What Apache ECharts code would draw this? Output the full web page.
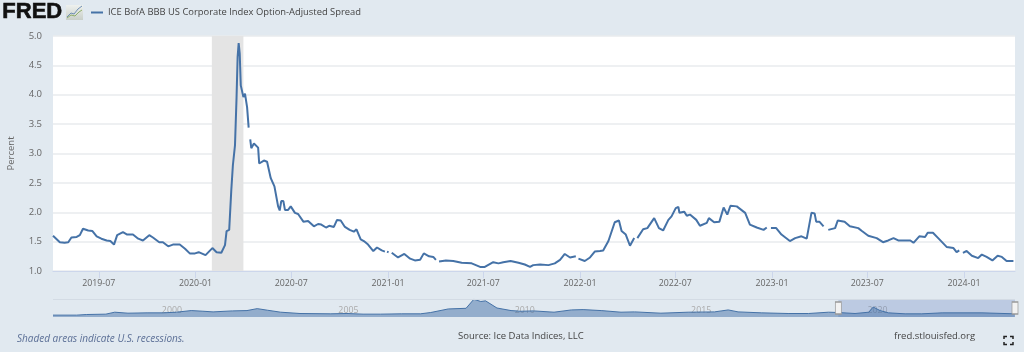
<!DOCTYPE html>
<html>
<head>
<meta charset="utf-8">
<title>ICE BofA BBB US Corporate Index Option-Adjusted Spread</title>
<style>
  html, body { margin: 0; padding: 0; background: #e1e9f0; }
  #chart { width: 1024px; height: 352px; }
</style>
</head>
<body>
<div id="chart"></div>
<script src="https://cdn.jsdelivr.net/npm/echarts@6/dist/echarts.min.js"></script>
<script>
const seriesName = 'ICE BofA BBB US Corporate Index Option-Adjusted Spread'
const yTicks = ['1.0', '1.5', '2.0', '2.5', '3.0', '3.5', '4.0', '4.5', '5.0']
const xTicks = ['2019-07-01', '2020-01-01', '2020-07-01', '2021-01-01', '2021-07-01', '2022-01-01', '2022-07-01', '2023-01-01', '2023-07-01', '2024-01-01']
const navTicks = ['2000-01-01', '2005-01-01', '2010-01-01', '2015-01-01', '2020-01-01']
const viewRange = ['2019-04-05', '2024-04-07']
const navRange = ['1996-12-31', '2024-04-07']
const recession = ['2020-02-01', '2020-04-01']

const dates = [
  '2019-04-05', '2019-04-11', '2019-04-18', '2019-04-27', '2019-05-04', '2019-05-10', '2019-05-20', '2019-05-26', '2019-06-01', '2019-06-11',
  '2019-06-19', '2019-06-27', '2019-07-06', '2019-07-16', '2019-07-23', '2019-07-30', '2019-08-05', '2019-08-16', '2019-08-24', '2019-09-04',
  '2019-09-14', '2019-09-23', '2019-10-05', '2019-10-12', '2019-10-24', '2019-10-31', '2019-11-10', '2019-11-19', '2019-12-02', '2019-12-12',
  '2019-12-21', '2019-12-31', '2020-01-07', '2020-01-20', '2020-02-02', '2020-02-10', '2020-02-19', '2020-02-26', '2020-02-29', '2020-03-05',
  '2020-03-09', '2020-03-12', '2020-03-16', '2020-03-19', '2020-03-21', '2020-03-23', '2020-03-25', '2020-03-27', '2020-04-01', '2020-04-04',
  '2020-04-08', '2020-04-11', '2020-04-13', '2020-04-14', '2020-04-16', '2020-04-21', '2020-04-29', '2020-05-01', '2020-05-10', '2020-05-16',
  '2020-05-23', '2020-05-26', '2020-05-30', '2020-06-02', '2020-06-06', '2020-06-09', '2020-06-12', '2020-06-16', '2020-06-19', '2020-06-25',
  '2020-06-30', '2020-07-08', '2020-07-14', '2020-07-24', '2020-08-02', '2020-08-13', '2020-08-21', '2020-08-27', '2020-09-05', '2020-09-11',
  '2020-09-20', '2020-09-26', '2020-10-03', '2020-10-11', '2020-10-20', '2020-10-28', '2020-11-02', '2020-11-10', '2020-11-16', '2020-11-24',
  '2020-12-04', '2020-12-11', '2020-12-20', '2020-12-26', '2020-12-29', '2020-12-30', '2021-01-02', '2021-01-04', '2021-01-08', '2021-01-20',
  '2021-02-01', '2021-02-12', '2021-02-21', '2021-03-03', '2021-03-10', '2021-03-20', '2021-03-28', '2021-04-02', '2021-04-05', '2021-04-08',
  '2021-04-21', '2021-05-05', '2021-05-21', '2021-06-09', '2021-06-25', '2021-07-04', '2021-07-20', '2021-07-30', '2021-08-08', '2021-08-22',
  '2021-09-06', '2021-09-18', '2021-09-28', '2021-10-04', '2021-10-17', '2021-11-02', '2021-11-14', '2021-11-24', '2021-12-03', '2021-12-13',
  '2021-12-24', '2021-12-26', '2021-12-29', '2022-01-10', '2022-01-20', '2022-01-29', '2022-02-08', '2022-02-14', '2022-02-24', '2022-03-08',
  '2022-03-16', '2022-03-21', '2022-03-29', '2022-04-06', '2022-04-14', '2022-04-17', '2022-04-20', '2022-05-01', '2022-05-09', '2022-05-22',
  '2022-05-25', '2022-05-31', '2022-06-08', '2022-06-18', '2022-06-24', '2022-07-02', '2022-07-07', '2022-07-09', '2022-07-18', '2022-07-23',
  '2022-07-29', '2022-08-10', '2022-08-17', '2022-08-30', '2022-09-03', '2022-09-13', '2022-09-23', '2022-10-01', '2022-10-08', '2022-10-14',
  '2022-10-26', '2022-11-11', '2022-11-20', '2022-12-03', '2022-12-16', '2022-12-22', '2022-12-26', '2022-12-30', '2023-01-09', '2023-01-19',
  '2023-02-04', '2023-02-14', '2023-02-26', '2023-03-08', '2023-03-17', '2023-03-23', '2023-03-26', '2023-04-01', '2023-04-09', '2023-04-13',
  '2023-04-18', '2023-05-01', '2023-05-06', '2023-05-19', '2023-05-29', '2023-06-14', '2023-06-21', '2023-07-03', '2023-07-19', '2023-07-31',
  '2023-08-10', '2023-08-20', '2023-08-29', '2023-09-21', '2023-09-27', '2023-10-08', '2023-10-19', '2023-10-24', '2023-11-03', '2023-11-13',
  '2023-11-29', '2023-12-12', '2023-12-18', '2023-12-23', '2023-12-26', '2023-12-30', '2024-01-06', '2024-01-16', '2024-01-28', '2024-02-04',
  '2024-02-13', '2024-02-24', '2024-03-05', '2024-03-13', '2024-03-22', '2024-04-04'
]
const spread = [
  1.60, 1.55, 1.49, 1.48, 1.49, 1.57, 1.58, 1.61, 1.72, 1.69,
  1.68, 1.59, 1.55, 1.52, 1.51, 1.45, 1.61, 1.66, 1.62, 1.62,
  1.55, 1.52, 1.61, 1.57, 1.49, 1.49, 1.42, 1.45, 1.45, 1.38,
  1.30, 1.30, 1.32, 1.27, 1.39, 1.32, 1.31, 1.44, 1.68, 1.70,
  2.38, 2.80, 3.14, 3.96, 4.64, 4.88, 4.70, 4.16, 3.96, 4.02,
  3.79, 3.44, null, 3.24, 3.09, 3.17, 3.10, 2.83, 2.88, 2.86,
  2.58, 2.58, 2.44, 2.43, 2.10, 2.03, 2.19, 2.19, 2.04, 2.04,
  2.10, 1.99, 1.97, 1.84, 1.85, 1.76, 1.80, 1.79, 1.74, 1.77,
  1.75, 1.87, 1.86, 1.75, 1.70, 1.67, 1.71, 1.54, 1.51, 1.45,
  1.34, 1.40, 1.35, 1.33, null, 1.33, 1.32, null, 1.31, 1.23,
  1.29, 1.21, 1.18, 1.19, 1.30, 1.25, 1.24, 1.19, null, 1.16,
  1.18, 1.17, 1.14, 1.13, 1.07, 1.07, 1.15, 1.13, 1.15, 1.17,
  1.14, 1.11, 1.07, 1.10, 1.11, 1.10, 1.13, 1.19, 1.29, 1.23,
  1.25, null, 1.21, 1.17, 1.23, 1.33, 1.34, 1.35, 1.51, 1.83,
  1.86, 1.68, 1.62, 1.43, 1.56, null, 1.56, 1.71, 1.73, 1.90,
  1.90, 1.73, 1.69, 1.87, 1.93, 2.07, 2.09, 1.99, 2.01, 1.94,
  1.96, 1.87, 1.77, 1.82, 1.90, 1.83, 1.84, 2.08, 1.96, 2.11,
  2.10, 1.99, 1.79, 1.74, 1.70, 1.74, null, 1.73, 1.73, 1.62,
  1.51, 1.56, 1.59, 1.55, 1.99, 1.98, 1.84, 1.84, 1.76, null,
  1.70, 1.73, 1.86, 1.84, 1.76, 1.73, 1.68, 1.60, 1.56, 1.49,
  1.52, 1.56, 1.52, 1.52, 1.48, 1.59, 1.58, 1.65, 1.65, 1.56,
  1.41, 1.39, 1.32, 1.35, null, 1.31, 1.34, 1.26, 1.22, 1.28,
  1.24, 1.18, 1.26, 1.24, 1.17, 1.17
]

// navigator strip, the whole history
const navDates = [
  '1996-12-31', '1997-09-01', '1997-12-15', '1998-07-01', '1998-10-01', '1999-02-15', '1999-09-01', '2000-02-15', '2000-07-01', '2000-12-01',
  '2001-04-01', '2001-07-15', '2002-02-01', '2002-07-01', '2002-10-15', '2003-02-01', '2003-06-15', '2004-01-01', '2004-11-15', '2005-05-01',
  '2005-10-15', '2006-04-15', '2006-11-15', '2007-06-01', '2007-09-15', '2008-03-15', '2008-09-15', '2008-12-05', '2009-02-15', '2009-04-05',
  '2009-08-01', '2009-12-25', '2010-04-05', '2010-08-15', '2011-03-15', '2011-09-10', '2012-01-10', '2012-07-15', '2013-02-05', '2013-06-25',
  '2014-03-25', '2015-01-01', '2015-10-01', '2016-02-20', '2016-06-01', '2017-02-01', '2017-11-01', '2018-06-01', '2018-12-25', '2019-04-05',
  '2019-09-25', '2020-02-15', '2020-03-31', '2020-06-10', '2020-09-05', '2021-02-25', '2021-08-15', '2022-03-15', '2023-05-01', '2024-04-05'
]
const navSpread = [
  1.65, 1.65, 1.90, 2.04, 2.82, 2.43, 2.56, 2.56, 2.82, 3.47,
  3.21, 2.95, 3.34, 3.47, 4.25, 3.60, 2.82, 2.30, 2.17, 2.30,
  2.04, 2.04, 2.17, 2.17, 2.69, 4.12, 4.38, 8.00, 7.10, 7.36,
  4.50, 3.47, 3.20, 3.34, 2.82, 3.73, 3.86, 3.47, 2.82, 2.95,
  2.43, 2.82, 2.95, 3.73, 2.95, 2.56, 2.30, 2.30, 2.82, 2.69,
  2.30, 2.82, 4.88, 3.47, 2.56, 2.17, 2.17, 2.56, 2.56, 2.17
]
const navMin = 0.9
const navMax = 8.1

const chart = echarts.init(document.getElementById('chart'), null, { renderer: 'canvas' })
const toTime = d => +new Date(d + 'T00:00:00')
const font = '"Open Sans", "Noto Sans", sans-serif'

const option = {
  backgroundColor: '#e1e9f0',
  animation: false,
  textStyle: { fontFamily: font },
  legend: {
    data: [seriesName],
    left: 86,
    top: 3,
    itemWidth: 12,
    itemHeight: 2,
    itemGap: 4,
    icon: 'rect',
    textStyle: { color: '#444', fontSize: 9.4, fontFamily: font },
  },
  grid: [
    { left: 53, right: 9, top: 36, height: 235, show: true, backgroundColor: '#fff', borderWidth: 0, outerBoundsMode: 'none' },
    { left: 53, right: 9, top: 299, height: 18, show: false, outerBoundsMode: 'none' },
  ],
  xAxis: [
    {
      type: 'time',
      gridIndex: 0,
      min: toTime(viewRange[0]),
      max: toTime(viewRange[1]),
      axisLine: { lineStyle: { color: '#ccd6eb', width: 1 } },
      axisTick: { customValues: xTicks.map(toTime), length: 7, lineStyle: { color: '#ccd6eb' } },
      axisLabel: {
        customValues: xTicks.map(toTime),
        formatter: '{yyyy}-{MM}',
        color: '#666',
        fontSize: 8.8,
        margin: 8,
        hideOverlap: false,
      },
      splitLine: { show: false },
    },
    {
      type: 'time',
      gridIndex: 1,
      min: toTime(navRange[0]),
      max: toTime(navRange[1]),
      axisLine: { show: false },
      axisTick: { show: false },
      axisLabel: {
        customValues: navTicks.map(toTime),
        formatter: '{yyyy}',
        inside: true,
        align: 'left',
        color: '#aaa',
        fontSize: 8.8,
        margin: 2,
        padding: [0, 0, 0, 3],
      },
      splitLine: { show: false },
    },
  ],
  yAxis: [
    {
      type: 'value',
      gridIndex: 0,
      min: 1,
      max: 5,
      interval: 0.5,
      name: 'Percent',
      nameLocation: 'middle',
      nameGap: 37,
      nameTextStyle: { color: '#666', fontSize: 9.5 },
      axisLine: { show: false },
      axisTick: { show: false },
      axisLabel: {
        color: '#666',
        fontSize: 9.5,
        margin: 11,
        padding: [0, 0, 10, 0],
        formatter: v => yTicks[Math.round((v - 1) / 0.5)],
      },
      splitLine: { lineStyle: { color: '#e9ebee', width: 1.5 } },
    },
    {
      type: 'value',
      gridIndex: 1,
      min: navMin,
      max: navMax,
      axisLine: { show: false },
      axisTick: { show: false },
      axisLabel: { show: false },
      splitLine: { show: false },
    },
  ],
  series: [
    {
      name: seriesName,
      type: 'line',
      xAxisIndex: 0,
      yAxisIndex: 0,
      showSymbol: false,
      connectNulls: false,
      lineStyle: { color: '#4572a7', width: 2 },
      itemStyle: { color: '#4572a7' },
      data: dates.map((d, i) => [d, spread[i]]),
      markArea: {
        silent: true,
        itemStyle: { color: '#e4e4e4' },
        data: [[{ xAxis: recession[0] }, { xAxis: recession[1] }]],
      },
      z: 3,
    },
    {
      name: 'navigator',
      type: 'line',
      xAxisIndex: 1,
      yAxisIndex: 1,
      showSymbol: false,
      lineStyle: { color: '#4572a7', width: 1 },
      itemStyle: { color: '#4572a7' },
      areaStyle: { color: '#4572a7', opacity: 0.5 },
      data: navDates.map((d, i) => [d, navSpread[i]]),
      markArea: {
        silent: true,
        itemStyle: { color: 'rgba(102, 133, 194, 0.3)' },
        data: [[{ xAxis: viewRange[0], yAxis: navMin }, { xAxis: viewRange[1], yAxis: navMax }]],
      },
      markLine: {
        silent: true,
        symbol: 'none',
        label: { show: false },
        lineStyle: { color: '#d3dbe4', width: 1, type: 'solid' },
        data: [{ yAxis: navMax }],
      },
      markPoint: {
        silent: true,
        symbol: 'rect',
        symbolSize: [6, 12],
        label: { show: false },
        itemStyle: { color: '#f2f2f2', borderColor: '#999', borderWidth: 1 },
        data: [
          { coord: [viewRange[0], 4.5] },
          { coord: [viewRange[1], 4.5] },
        ],
      },
      z: 2,
    },
  ],
  graphic: [
    {
      type: 'text',
      left: 2,
      top: 1,
      style: {
        text: 'FRED',
        fill: '#111',
        stroke: '#111',
        lineWidth: 0.6,
        font: 'bold 22px "Liberation Sans", sans-serif',
      },
    },
    {
      type: 'rect',
      shape: { x: 66, y: 5, width: 17, height: 15 },
      style: {
        fill: new echarts.graphic.LinearGradient(0, 0, 0, 1, [
          { offset: 0, color: '#eef1ee' },
          { offset: 1, color: '#c9cfc9' },
        ]),
      },
    },
    {
      type: 'polyline',
      shape: { points: [[67, 17], [71, 13], [74, 14], [78, 9], [82, 6]] },
      style: { stroke: '#6f8fb5', lineWidth: 1, fill: 'none' },
    },
    {
      type: 'polyline',
      shape: { points: [[67, 18], [71, 15], [75, 16], [79, 12], [82, 10]] },
      style: { stroke: '#8fae6a', lineWidth: 1, fill: 'none' },
    },
    {
      type: 'text',
      left: 17,
      top: 334,
      style: { text: 'Shaded areas indicate U.S. recessions.', fill: '#5b6f96', font: 'italic 10px "Open Sans", sans-serif' },
    },
    {
      type: 'text',
      left: 458,
      top: 331,
      style: { text: 'Source: Ice Data Indices, LLC', fill: '#444', font: '9.5px "Open Sans", sans-serif' },
    },
    {
      type: 'text',
      left: 894,
      top: 331,
      style: { text: 'fred.stlouisfed.org', fill: '#444', font: '9.5px "Open Sans", sans-serif' },
    },
    // fullscreen corners
    { type: 'polyline', shape: { points: [[1004, 339], [1004, 336.5], [1007, 336.5]] }, style: { stroke: '#222', lineWidth: 1.5, fill: 'none' } },
    { type: 'polyline', shape: { points: [[1010, 336.5], [1013, 336.5], [1013, 339]] }, style: { stroke: '#222', lineWidth: 1.5, fill: 'none' } },
    { type: 'polyline', shape: { points: [[1004, 342], [1004, 344.5], [1007, 344.5]] }, style: { stroke: '#222', lineWidth: 1.5, fill: 'none' } },
    { type: 'polyline', shape: { points: [[1010, 344.5], [1013, 344.5], [1013, 342]] }, style: { stroke: '#222', lineWidth: 1.5, fill: 'none' } },
  ],
}

chart.setOption(option)
</script>
</body>
</html>
